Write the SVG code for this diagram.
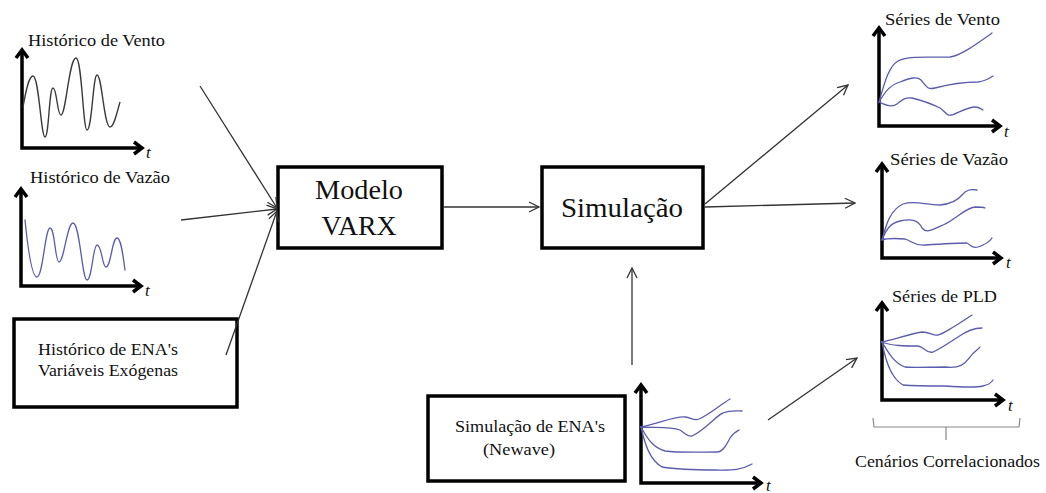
<svg xmlns="http://www.w3.org/2000/svg" width="1046" height="493" viewBox="0 0 1046 493">
<style>
.lbl{font-family:"Liberation Serif","Times New Roman",serif;font-size:17.5px;fill:#111}
.big{font-family:"Liberation Serif","Times New Roman",serif;font-size:28px;fill:#111;text-anchor:middle}
.t{font-family:"Liberation Serif","Times New Roman",serif;font-size:17px;font-style:italic;fill:#111}
.ax{fill:none;stroke:#000;stroke-width:3.5;stroke-linejoin:miter}
.box{fill:#fff;stroke:#000;stroke-width:3.5}
.cv{fill:none;stroke:#5a5cae;stroke-width:1.3;stroke-linecap:round;stroke-linejoin:round}
.con{fill:none;stroke:#333;stroke-width:1.3}
</style>
<defs>
<marker id="ah" markerWidth="12" markerHeight="12" refX="11" refY="6" orient="auto" markerUnits="userSpaceOnUse">
<path d="M1,1 L11,6 L1,11" fill="none" stroke="#333" stroke-width="1.3"/>
</marker>
</defs>
<rect width="1046" height="493" fill="#fff"/>

<g id="hist-vento">
<text class="lbl" x="28" y="46" textLength="137" lengthAdjust="spacingAndGlyphs">Histórico de Vento</text>
<path class="ax" d="M22,50 L22,148 L142,148"/>
<polyline class="ax" points="16,58 22,50 28,58"/>
<polyline class="ax" points="134,142 142,148 134,154"/>
<text class="t" x="146" y="158">t</text>
<path d="M23,107 C26,90 29,76 33,76 C39,76 41,137 45,137 C49,137 49,88 53,88 C57,88 57,115 61,115 C66,115 69,58 76,58 C82,58 83,130 87,130 C92,130 93,75 97,75 C102,75 104,127 110,127 C114,127 117,112 120,102" fill="none" stroke="#3a3a3a" stroke-width="1.4"/>
</g>

<g id="hist-vazao">
<text class="lbl" x="30" y="183" textLength="140" lengthAdjust="spacingAndGlyphs">Histórico de Vazão</text>
<path class="ax" d="M21,189 L21,286 L141,286"/>
<polyline class="ax" points="15,197 21,189 27,197"/>
<polyline class="ax" points="133,280 141,286 133,292"/>
<text class="t" x="145" y="296">t</text>
<path class="cv" d="M25,220 C28,250 32,277 37,277 C43,277 45,228 50,228 C55,228 55,262 59,262 C64,262 67,223 73,223 C80,223 82,280 87,280 C92,280 93,245 97,245 C102,245 102,267 106,267 C111,267 112,238 117,238 C121,238 123,255 125,270"/>
</g>

<g id="hist-ena">
<rect class="box" x="14" y="319" width="223" height="88"/>
<text class="lbl" x="38" y="355" textLength="140" lengthAdjust="spacingAndGlyphs">Histórico de ENA's</text>
<text class="lbl" x="38" y="376" textLength="140" lengthAdjust="spacingAndGlyphs">Variáveis Exógenas</text>
</g>

<g id="modelo">
<rect class="box" x="278" y="167" width="164" height="81"/>
<text class="big" x="359" y="199" textLength="88" lengthAdjust="spacingAndGlyphs">Modelo</text>
<text class="big" x="359" y="235" textLength="75" lengthAdjust="spacingAndGlyphs">VARX</text>
</g>

<g id="simulacao">
<rect class="box" x="542" y="167" width="161" height="81"/>
<text class="big" x="622" y="217" textLength="122" lengthAdjust="spacingAndGlyphs">Simulação</text>
</g>

<g id="newave">
<rect class="box" x="428" y="396" width="197" height="85"/>
<text class="lbl" x="455" y="432" textLength="150" lengthAdjust="spacingAndGlyphs">Simulação de ENA's</text>
<text class="lbl" x="483" y="455" textLength="72" lengthAdjust="spacingAndGlyphs">(Newave)</text>
<path class="ax" d="M641,385 L641,483 L761,483"/>
<polyline class="ax" points="635,393 641,385 647,393"/>
<polyline class="ax" points="753,477 761,483 753,489"/>
<text class="t" x="766" y="491">t</text>
<path class="cv" d="M641,427 C660,423 675,416 685,417 C692,418 694,421 699,419 C710,414 720,405 730,399"/>
<path class="cv" d="M641,427 C655,428 670,426 680,430 C685,433 687,437 692,436 C705,430 718,414 723,413 C730,410 736,411 742,411"/>
<path class="cv" d="M641,427 C648,440 654,448 665,451 C680,453 700,452 717,452 C723,452 727,444 730,438 C734,432 737,431 739,430"/>
<path class="cv" d="M641,427 C645,445 650,460 662,467 C680,470 700,470 715,470 C730,470 740,471 752,464"/>
</g>

<g id="series-vento">
<text class="lbl" x="885" y="25" textLength="115" lengthAdjust="spacingAndGlyphs">Séries de Vento</text>
<path class="ax" d="M879,28 L879,126 L1000,126"/>
<polyline class="ax" points="873,36 879,28 885,36"/>
<polyline class="ax" points="992,120 1000,126 992,132"/>
<text class="t" x="1004" y="137">t</text>
<path class="cv" d="M879,102 C884,85 888,67 898,61 C910,55 935,58 950,57 C960,56 975,45 992,33"/>
<path class="cv" d="M879,102 C885,92 890,85 900,82 C910,78 917,76 921,80 C926,86 927,90 935,88 C950,84 965,82 978,82 C985,81 990,78 993,76"/>
<path class="cv" d="M879,102 C886,105 892,108 897,104 C902,100 905,97 912,98 C920,100 932,104 940,108 C946,112 946,116 952,115 C960,112 968,107 975,107 C979,107 981,109 983,110"/>
</g>

<g id="series-vazao">
<text class="lbl" x="890" y="165" textLength="118" lengthAdjust="spacingAndGlyphs">Séries de Vazão</text>
<path class="ax" d="M882,164 L882,258 L1001,258"/>
<polyline class="ax" points="876,172 882,164 888,172"/>
<polyline class="ax" points="993,252 1001,258 993,264"/>
<text class="t" x="1006" y="268">t</text>
<path class="cv" d="M882,240 C886,225 890,210 903,204 C915,200 925,205 940,205 C950,204 958,200 962,195 C966,190 970,189 977,190"/>
<path class="cv" d="M882,240 C886,230 890,223 900,221 C910,219 918,219 922,228 C926,233 930,231 943,225 C955,220 965,208 975,207 C980,207 983,207 985,208"/>
<path class="cv" d="M882,240 C888,238 893,238 905,239 C912,241 914,246 925,245 C940,244 955,243 967,243 C971,245 972,249 978,247 C984,245 989,243 992,238"/>
</g>

<g id="series-pld">
<text class="lbl" x="892" y="302" textLength="105" lengthAdjust="spacingAndGlyphs">Séries de PLD</text>
<path class="ax" d="M882,303 L882,400 L1003,400"/>
<polyline class="ax" points="876,311 882,303 888,311"/>
<polyline class="ax" points="995,394 1003,400 995,406"/>
<text class="t" x="1008" y="411">t</text>
<path class="cv" d="M882,342 C895,339 910,334 922,332 C930,332 933,336 938,335 C945,333 948,330 955,326 C962,322 967,318 972,315"/>
<path class="cv" d="M882,342 C892,346 905,346 918,346 C925,347 926,354 933,352 C942,348 950,342 958,337 C965,332 972,328 982,328"/>
<path class="cv" d="M882,342 C888,352 894,363 905,367 C915,368 930,367 945,367 C962,369 966,362 970,357 C974,351 978,350 980,347"/>
<path class="cv" d="M882,342 C885,358 890,378 903,385 C915,386 930,386 945,386 C960,387 975,388 983,386 C988,385 991,383 993,380"/>
</g>

<g id="cenarios">
<path d="M873,418 L874,427 L1019,427 L1020,418 M946,427 L946,440" fill="none" stroke="#888" stroke-width="1.2"/>
<text class="lbl" x="855" y="467" textLength="185" lengthAdjust="spacingAndGlyphs">Cenários Correlacionados</text>
</g>

<g id="connectors">
<line class="con" x1="200" y1="86" x2="277" y2="208" marker-end="url(#ah)"/>
<line class="con" x1="181" y1="220" x2="277" y2="209" marker-end="url(#ah)"/>
<line class="con" x1="226" y1="355" x2="277" y2="211" marker-end="url(#ah)"/>
<line class="con" x1="443" y1="207" x2="539" y2="207" marker-end="url(#ah)"/>
<line class="con" x1="705" y1="204" x2="848" y2="85" marker-end="url(#ah)"/>
<line class="con" x1="705" y1="207" x2="855" y2="203" marker-end="url(#ah)"/>
<line class="con" x1="632" y1="365" x2="632" y2="268" marker-end="url(#ah)"/>
<line class="con" x1="768" y1="420" x2="857" y2="358" marker-end="url(#ah)"/>
</g>
</svg>
